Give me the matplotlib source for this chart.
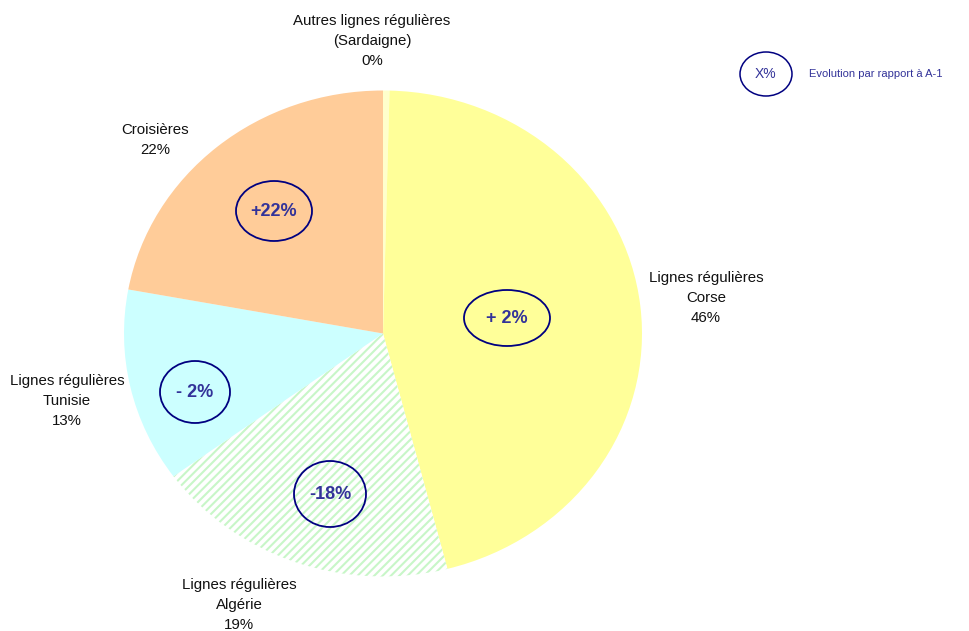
import matplotlib.pyplot as plt
from matplotlib.patches import Ellipse

plt.rcParams['font.family'] = ['Liberation Sans', 'DejaVu Sans']
plt.rcParams['hatch.linewidth'] = 1.5

# Parts de trafic (ordre horaire depuis le haut)
categories = ["Autres lignes régulières\n(Sardaigne)", "Lignes régulières\nCorse",
              "Lignes régulières\nAlgérie", "Lignes régulières\nTunisie", "Croisières"]
shares = [0.4, 45.6, 19.0, 12.9, 22.1]
share_labels = ["0%", "46%", "19%", "13%", "22%"]
colors = ["#FFFFCC", "#FFFF99", "white", "#CCFFFF", "#FFCC99"]
hatches = [None, None, "////", None, None]
# Evolution par rapport à A-1 (None = pas de bulle)
changes = [None, "+ 2%", "-18%", "- 2%", "+22%"]

W, H = 970, 631
CX, CY, RX, RY = 383, 333.5, 259, 243


def px(x, y):
    """pixel (from top-left) -> data coords of the pie axes"""
    return (x - CX) / RX, (CY - y) / RY


fig = plt.figure(figsize=(W / 100, H / 100), dpi=100)
ax = fig.add_axes([0, 0, 1, 1])

wedges, _ = ax.pie(shares, colors=colors, startangle=90, counterclock=False,
                   wedgeprops=dict(linewidth=0))
for w, h in zip(wedges, hatches):
    if h:
        w.set_hatch(h)
        w.set_edgecolor("#C8F6C8")
        w.set_linewidth(0)

ax.set_aspect("auto")
ax.set_xlim(-CX / RX, (W - CX) / RX)
ax.set_ylim(-(H - CY) / RY, CY / RY)
ax.axis("off")

# labels of categories
label_pos = [(372, 41), (706, 298), (239, 605), (67, 401), (155, 140)]
for name, pct, (lx, ly) in zip(categories, share_labels, label_pos):
    x, y = px(lx, ly)
    ax.text(x, y, f"{name}\n{pct}", ha="center", va="center", fontsize=10.8,
            linespacing=1.55, color="#111111")

# bubbles with evolution
bubble_pos = [None, (507, 318, 86, 56), (330, 494, 72, 66), (195, 392, 70, 62), (274, 211, 76, 60)]
for ch, bp in zip(changes, bubble_pos):
    if ch is None:
        continue
    bx, by, bw, bh = bp
    x, y = px(bx, by)
    ax.add_patch(Ellipse((x, y), bw / RX, bh / RY, facecolor="none",
                         edgecolor="#000080", linewidth=1.3, zorder=5))
    ax.text(x, y, ch, ha="center", va="center", fontsize=13, fontweight="bold",
            color="#333399", zorder=6)

# legend
x, y = px(766, 74)
ax.add_patch(Ellipse((x, y), 52 / RX, 44 / RY, facecolor="none",
                     edgecolor="#000080", linewidth=1.1, zorder=5))
ax.text(x, y, "X%", ha="center", va="center", fontsize=10, color="#333399")
x, y = px(809, 74)
ax.text(x, y, "Evolution par rapport à A-1", ha="left", va="center", fontsize=8,
        color="#333399")

fig.savefig("out.png", dpi=100)
